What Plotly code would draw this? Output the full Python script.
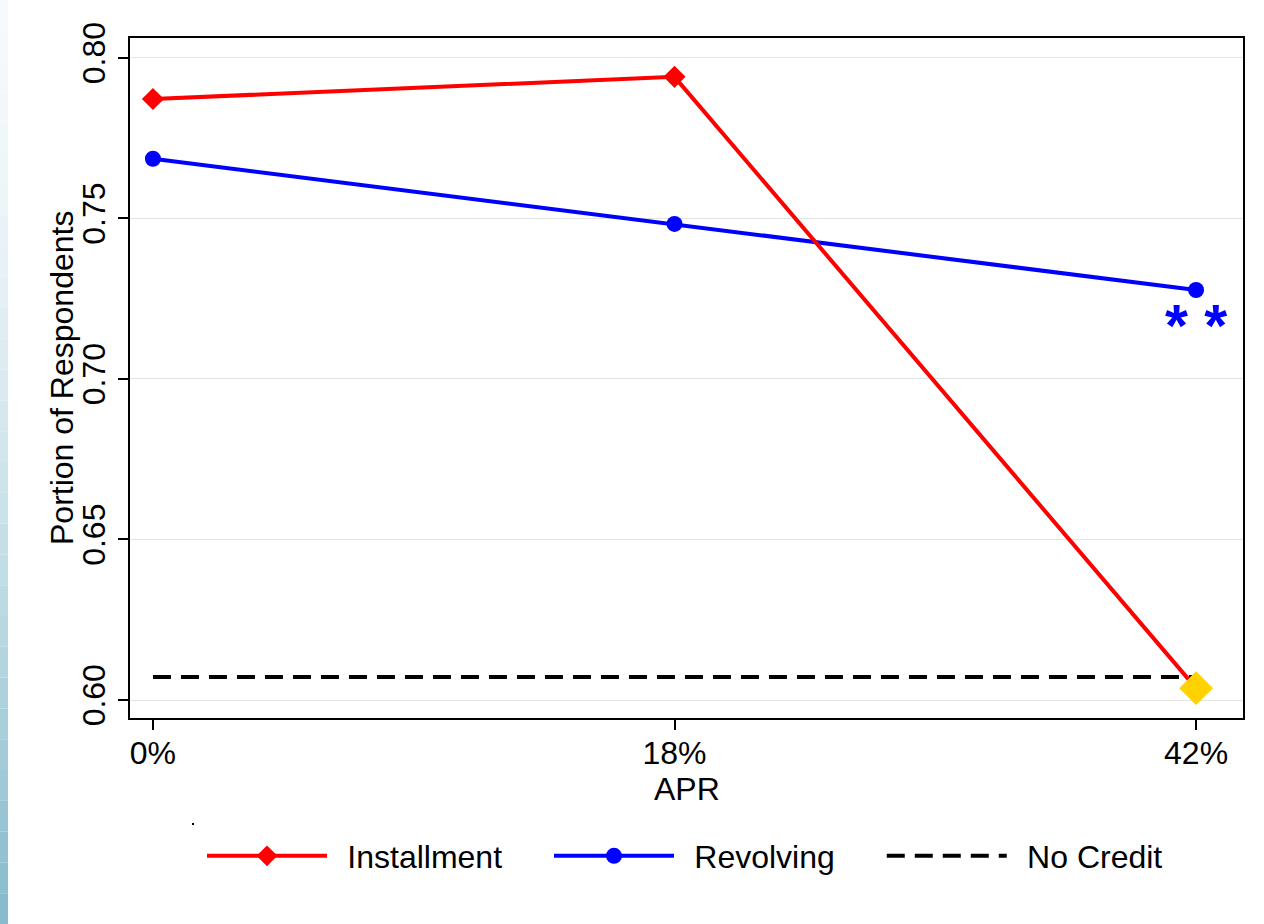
import plotly.graph_objects as go

categories = ["0%", "18%", "42%"]
installment = [0.7872, 0.7941, 0.6037]
revolving = [0.7686, 0.7483, 0.7277]
no_credit = [0.6072, 0.6072, 0.6072]
highlight_idx = 2
y_ticks = [0.60, 0.65, 0.70, 0.75, 0.80]
y_tick_labels = ["0.60", "0.65", "0.70", "0.75", "0.80"]

W, H = 1264, 924
ML, MR, MT, MB = 130, 21, 38, 206
PW, PH = W - ML - MR, H - MT - MB
FONT = "Liberation Sans"
FS = 32
NB = "\u00a0"
TH = "\u2009"
PRE = NB + TH
POST = NB * 4 + TH

def px_x(p):
    return (p - ML) / PW

def px_y(p):
    return 1 - (p - MT) / PH

xi = list(range(len(categories)))

fig = go.Figure()
fig.add_trace(go.Scatter(
    x=xi, y=no_credit, mode="lines", name=PRE + "No Credit",
    line=dict(color="black", width=4, dash="18px,10px"), legendrank=3))
fig.add_trace(go.Scatter(
    x=xi, y=revolving, mode="lines+markers", name=PRE + "Revolving" + POST,
    line=dict(color="#0000ff", width=4),
    marker=dict(symbol="circle", size=16, color="#0000ff"), legendrank=2))
fig.add_trace(go.Scatter(
    x=xi, y=installment, mode="lines+markers", name=PRE + "Installment" + POST,
    line=dict(color="#ff0000", width=4),
    marker=dict(symbol="diamond", size=17, color="#ff0000"), legendrank=1))
fig.add_trace(go.Scatter(
    x=[xi[highlight_idx]], y=[installment[highlight_idx]], mode="markers",
    marker=dict(symbol="diamond", size=26, color="#ffd200"), showlegend=False))

fig.add_annotation(x=xi[2], y=revolving[2], xref="x", yref="y", text="<b>* *</b>",
                   showarrow=False, yshift=-36, xshift=0,
                   font=dict(family=FONT, size=59, color="#0000ff"))

# axis titles
fig.add_annotation(x=px_x(62), y=px_y(378), xref="paper", yref="paper", text="Portion of Respondents",
                   textangle=-90, showarrow=False, xanchor="center", yanchor="middle",
                   font=dict(family=FONT, size=FS, color="black"))
fig.add_annotation(x=px_x(687), y=px_y(789), xref="paper", yref="paper", text="APR",
                   showarrow=False, xanchor="center", yanchor="middle",
                   font=dict(family=FONT, size=FS, color="black"))

# left slide strip gradient
n = 30
for i in range(n):
    t = i / (n - 1)
    r = int(245 - (245 - 135) * t ** 1.6)
    g = int(250 - (250 - 188) * t ** 1.6)
    b = int(252 - (252 - 204) * t ** 1.6)
    fig.add_shape(type="rect", xref="paper", yref="paper",
                  x0=px_x(0), x1=px_x(8), y0=px_y(H * (i + 1) / n), y1=px_y(H * i / n),
                  line=dict(width=0), fillcolor=f"rgb({r},{g},{b})", layer="below")
fig.add_shape(type="rect", xref="paper", yref="paper",
              x0=px_x(192), x1=px_x(194), y0=px_y(825), y1=px_y(823),
              line=dict(width=0), fillcolor="black")

axis_common = dict(showline=True, linecolor="black", linewidth=2, mirror=True,
                   ticks="outside", ticklen=10, tickwidth=1.5, tickcolor="black",
                   tickfont=dict(family=FONT, size=FS, color="black"), zeroline=False)

fig.update_xaxes(tickvals=xi, ticktext=categories, range=[-0.044, 2.09],
                 showgrid=False, ticklabelstandoff=-4,
                 **axis_common)
fig.update_yaxes(tickvals=y_ticks, ticktext=y_tick_labels, range=[0.5944, 0.8062],
                 tickangle=-90, showgrid=True, gridcolor="#e3e3e3", gridwidth=1,
                 **axis_common)

fig.update_layout(
    width=W, height=H,
    margin=dict(l=ML, r=MR, t=MT, b=MB, autoexpand=False),
    paper_bgcolor="white", plot_bgcolor="white",
    font=dict(family=FONT, size=FS, color="black"),
    showlegend=True,
    legend=dict(orientation="h", x=px_x(685), xanchor="center", y=px_y(856), yanchor="middle",
                font=dict(family=FONT, size=FS, color="black"), itemwidth=120,
                traceorder="normal", bgcolor="rgba(0,0,0,0)"),
)

fig.write_html("out.html", config={"displayModeBar": False},
               post_script="document.body.style.margin='0';")
